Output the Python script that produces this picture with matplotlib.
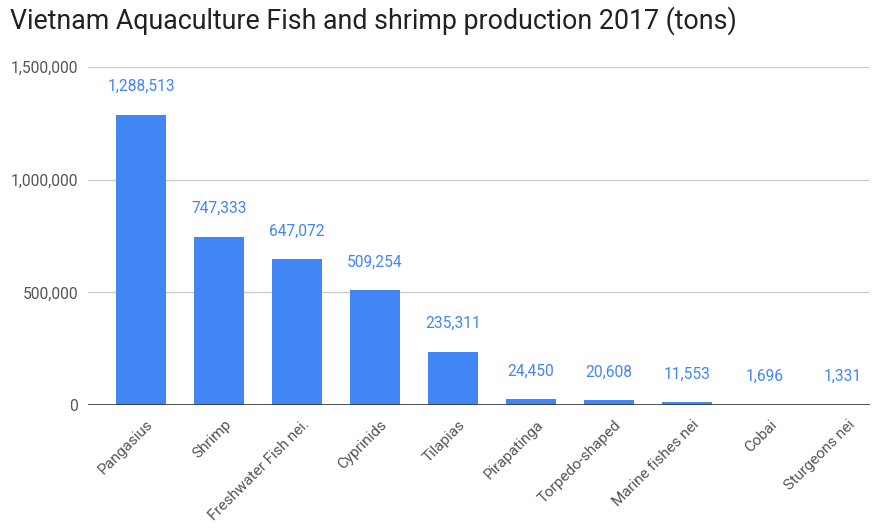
import matplotlib
matplotlib.use("Agg")
import matplotlib.pyplot as plt
import matplotlib.transforms as mtransforms
from matplotlib.ticker import FuncFormatter

categories = ["Pangasius", "Shrimp", "Freshwater Fish nei.", "Cyprinids", "Tilapias",
              "Pirapatinga", "Torpedo-shaped", "Marine fishes nei", "Cobai", "Sturgeons nei"]
values = [1288513, 747333, 647072, 509254, 235311, 24450, 20608, 11553, 1696, 1331]
yticks = [0, 500000, 1000000, 1500000]

plt.rcParams['font.family'] = ['Roboto', 'DejaVu Sans']

fig = plt.figure(figsize=(8.82, 5.29), dpi=100)
ax = fig.add_axes([88/882, 124/529, 782/882, 338/529])

x = list(range(len(categories)))
ax.bar(x, values, width=0.64, color="#4285F4", zorder=3)
for xi, v in zip(x, values):
    ax.annotate(f"{v:,}", (xi, v), xytext=(0, 15), textcoords="offset points",
                ha="center", va="bottom", color="#4285F4", fontsize=11.2)

ax.set_xlim(-0.68, 9.35)
ax.set_ylim(0, 1500000)
ax.set_yticks(yticks)
ax.yaxis.set_major_formatter(FuncFormatter(lambda v, p: f"{int(v):,}"))
ax.grid(axis="y", color="#cccccc", linewidth=1, zorder=0)
ax.axhline(0, color="#333333", linewidth=1.2, zorder=4)
for s in ax.spines.values():
    s.set_visible(False)
ax.tick_params(axis="both", length=0, colors="#555555", labelsize=11.2)
ax.tick_params(axis="y", pad=7)
ax.set_xticks(x)
ax.set_xticklabels(categories, rotation=45, ha="right", va="top", rotation_mode="anchor", fontsize=11)
ax.tick_params(axis="x", pad=9)
offset = mtransforms.ScaledTranslation(5/100, 0, fig.dpi_scale_trans)
for lbl in ax.get_xticklabels():
    lbl.set_transform(lbl.get_transform() + offset)

fig.text(10/882, 1 - 21/529, "Vietnam Aquaculture Fish and shrimp production 2017 (tons)",
         fontsize=19.3, color="#212121", ha="left", va="center")

fig.savefig("out.png", dpi=100)
